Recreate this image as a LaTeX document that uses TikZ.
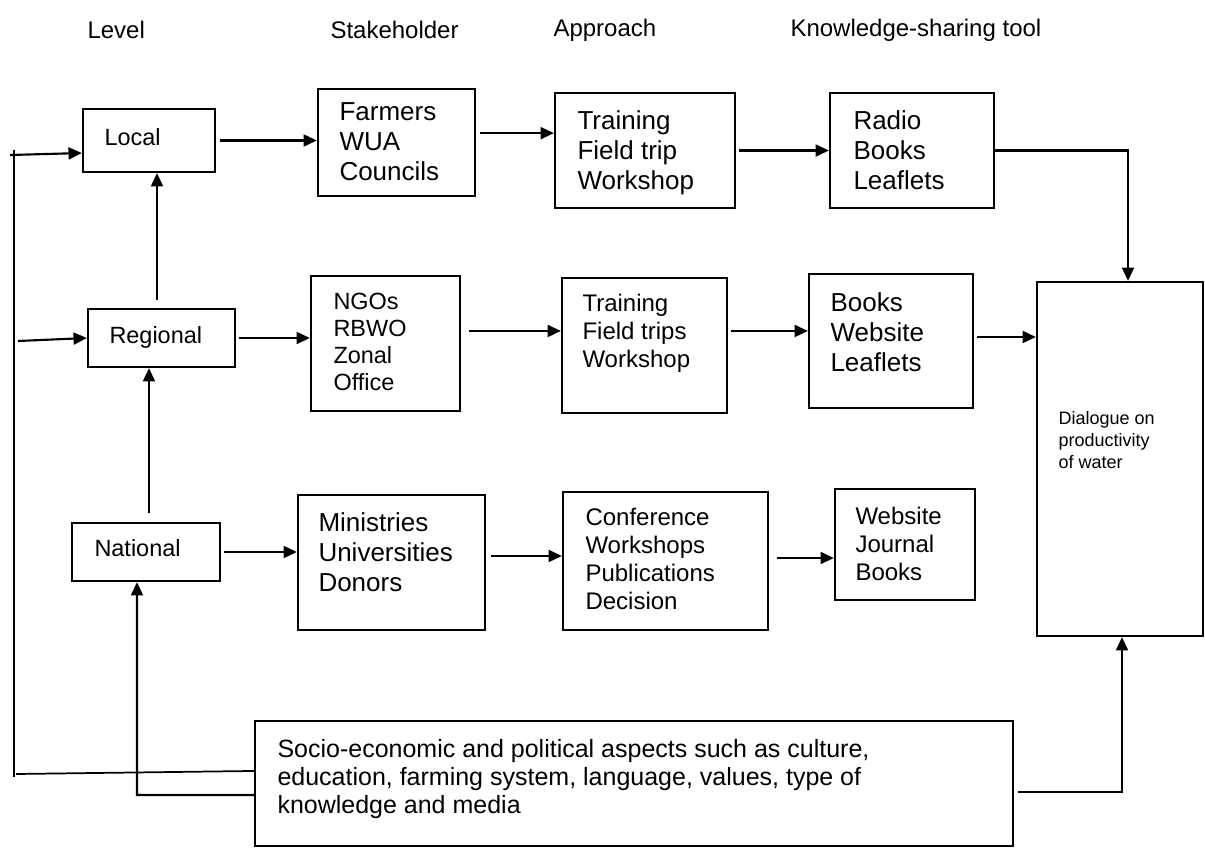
\documentclass[tikz,border=0pt]{standalone}
\usepackage{fontspec}
\setmainfont{Liberation Sans}
\usetikzlibrary{arrows.meta}

\tikzset{every picture/.style={line width=0.75pt}}
\tikzset{
  box/.style 2 args={draw, line width=1.7pt, minimum width=#1*0.75pt, minimum height=#2*0.75pt, inner sep=0pt},
  txt/.style={inner sep=0pt, align=left, anchor=north west},
  big/.style={font=\fontsize{19.5}{22.5}\selectfont},
  mid/.style={font=\fontsize{18}{21}\selectfont},
  lvl/.style={font=\fontsize{17.6}{20.25}\selectfont},
  small/.style={font=\fontsize{13.5}{16.5}\selectfont},
  arr/.style={line width=1.6pt, -{Triangle[length=10pt,width=9pt]}},
  wire/.style={line width=1.3pt},
}

\begin{document}
\begin{tikzpicture}[x=0.75pt,y=0.75pt,yscale=-1,xscale=1]
\useasboundingbox (0,0) rectangle (1205,848);

% Column headings
\node[mid, inner sep=0pt, anchor=west] (hlevel) at (87,30) {Level};
\node[mid, inner sep=0pt, anchor=west] (hstake) at (330,30) {Stakeholder};
\node[mid, inner sep=0pt, anchor=west] (happr) at (553,30) {Approach};
\node[mid, inner sep=0pt, anchor=west] (htool) at (790,30) {Knowledge-sharing tool};

%Shape: Rectangle -- level boxes
\node[box={132}{63}] (local) at (149,140.5) {};
\node[box={147}{58}] (regional) at (161.5,338) {};
\node[box={148}{58}] (national) at (146,552) {};

%Shape: Rectangle -- stakeholder boxes
\node[box={157}{107}] (farmers) at (396.5,142.5) {};
\node[box={149}{135}] (ngos) at (385.5,343.5) {};
\node[box={187}{135}] (minis) at (391.5,562.5) {};

%Shape: Rectangle -- approach boxes
\node[box={180}{115}] (train1) at (645,150.5) {};
\node[box={165}{135}] (train2) at (644.5,345.5) {};
\node[box={205}{138}] (conf) at (665.5,561) {};

%Shape: Rectangle -- tool boxes
\node[box={164}{115}] (radio) at (912,150.5) {};
\node[box={164}{134}] (books2) at (891,341) {};
\node[box={140}{111}] (web3) at (905,544.5) {};

%Shape: Rectangle -- dialogue and aspects
\node[box={166}{354}] (dialogue) at (1120,459) {};
\node[box={758}{125}] (socio) at (634,783.5) {};

% Text Node
\node[lvl, inner sep=0pt, anchor=west] (localtxt) at (104,137) {Local};
\node[lvl, inner sep=0pt, anchor=west] (regionaltxt) at (109,337) {Regional};
\node[lvl, inner sep=0pt, anchor=west] (nationaltxt) at (94,548) {National};

\node[txt, big] (farmerstxt) at (339,102) {Farmers\\WUA\\Councils};
\node[txt, lvl] (ngostxt) at (333,293) {NGOs\\RBWO\\Zonal\\Office};
\node[txt, big] (ministxt) at (318,512) {Ministries\\Universities\\Donors};

\node[txt, big] (train1txt) at (577,110) {Training\\Field trip\\Workshop};
\node[txt, mid] (train2txt) at (582,294) {Training\\Field trips\\Workshop};
\node[txt, mid] (conftxt) at (585,508) {Conference\\Workshops\\Publications\\Decision};

\node[txt, big] (radiotxt) at (853,110) {Radio\\Books\\Leaflets};
\node[txt, big] (books2txt) at (830,292) {Books\\Website\\Leaflets};
\node[txt, mid] (web3txt) at (855,507) {Website\\Journal\\Books};

\node[txt, small] (dialoguetxt) at (1058,411) {Dialogue on\\productivity\\of water};
\node[txt, font=\fontsize{18.75}{21}\selectfont] (sociotxt) at (277,739) {Socio-economic and political aspects such as culture,\\education, farming system, language, values, type of\\knowledge and media};

%Straight Lines -- free ends on the left
\coordinate (lefttop) at (14,150);
\coordinate (leftbot) at (14,777);
\coordinate (leftfoot) at (16,774);
\coordinate (leftin1) at (10,155);
\coordinate (leftin2) at (18,341);
\coordinate (nattail) at (137,795);
\coordinate (regtop) at (157,300);
\coordinate (nattop) at (149,513);

\draw[wire] (lefttop) -- (leftbot);
\draw[wire] (leftfoot) -- ([yshift=-9.4pt]socio.west);
\draw[arr] (leftin1) -- ([yshift=9.4pt]local.west);
\draw[arr] (leftin2) -- (regional.west);
\draw[arr] ([yshift=8.6pt]socio.west) -- (nattail) -- (nattail |- national.south);

% level chain
\draw[arr] (regtop) -- (regtop |- local.south);
\draw[arr] (nattop) -- (nattop |- regional.south);

% rows
\draw[arr, shorten <=3pt] (local.east) -- (local.east -| farmers.west);
\draw[arr, shorten <=3pt] ([yshift=-7pt]farmers.east) -- ([yshift=-7pt]farmers.east -| train1.west);
\draw[arr, shorten <=2pt] (train1.east) -- (train1.east -| radio.west);
\draw[arr] (radio.east) -| ([xshift=6pt]dialogue.north);

\draw[arr, shorten <=2pt] (regional.east) -- (regional.east -| ngos.west);
\draw[arr, shorten <=6pt] ([yshift=-9.4pt]ngos.east) -- ([yshift=-9.4pt]ngos.east -| train2.west);
\draw[arr, shorten <=2pt] ([yshift=-10.9pt]train2.east) -- ([yshift=-10.9pt]train2.east -| books2.west);
\draw[arr, shorten <=2pt] ([yshift=-3pt]books2.east) -- ([yshift=-3pt]books2.east -| dialogue.west);

\draw[arr, shorten <=2pt] (national.east) -- (national.east -| minis.west);
\draw[arr, shorten <=4pt] ([yshift=-4.9pt]minis.east) -- ([yshift=-4.9pt]minis.east -| conf.west);
\draw[arr, shorten <=6pt] ([yshift=-2.25pt]conf.east) -- ([yshift=-2.25pt]conf.east -| web3.west);

\draw[arr, shorten <=3pt] ([yshift=6.4pt]socio.east) -| ([xshift=1.5pt]dialogue.south);

\end{tikzpicture}
\end{document}
